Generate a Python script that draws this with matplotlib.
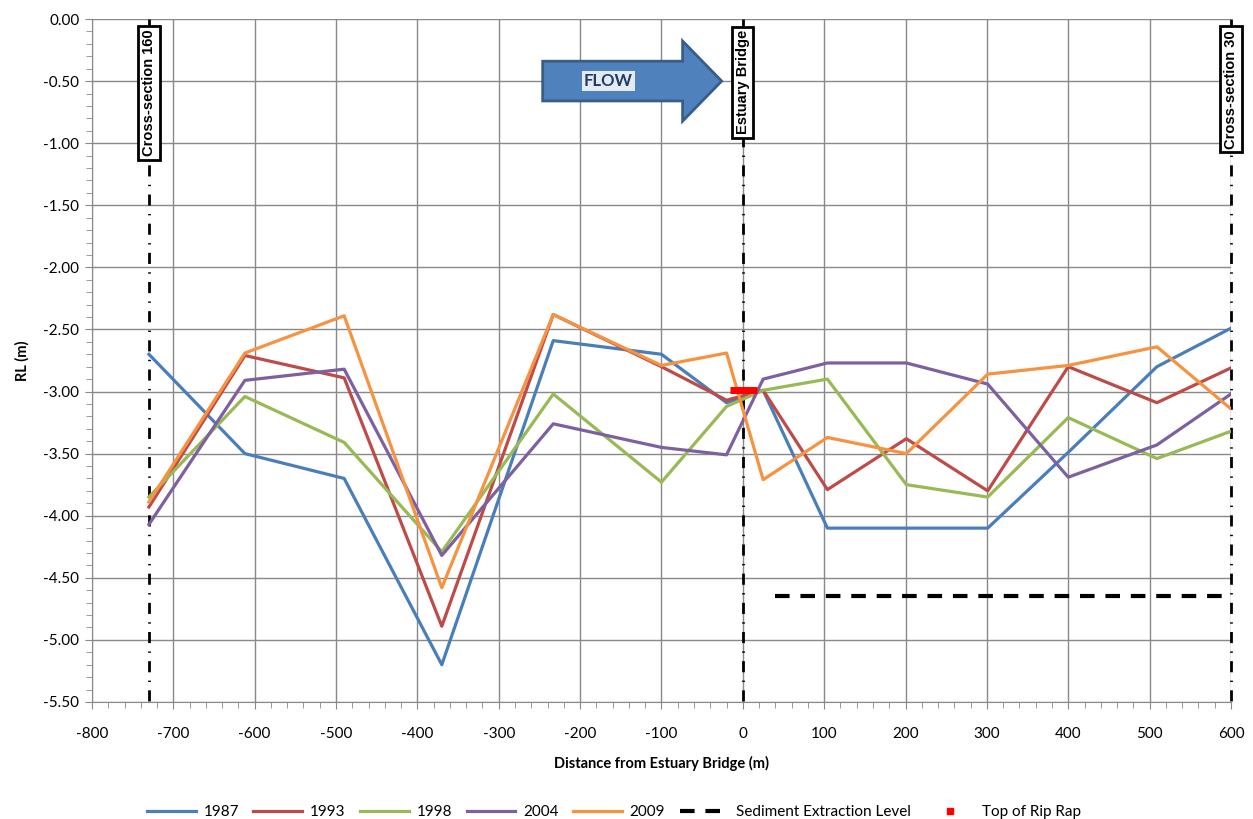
import numpy as np
import matplotlib
matplotlib.use("Agg")
import matplotlib.pyplot as plt
from matplotlib.patches import FancyArrow
from matplotlib.lines import Line2D
from matplotlib.ticker import MultipleLocator, FormatStrFormatter

plt.rcParams['font.family'] = ['Lato', 'DejaVu Sans']
plt.rcParams['axes.unicode_minus'] = False

# chainage of each surveyed section (m from Estuary Bridge)
dist = [-730, -612, -490, -370, -233, -100, -20, 25, 104, 201, 301, 400, 509, 600]

rl_1987 = [-2.70, -3.50, -3.70, -5.20, -2.59, -2.70, -3.09, -2.99, -4.10, -4.10, -4.10, -3.49, -2.80, -2.49]
rl_1993 = [-3.93, -2.71, -2.89, -4.89, -2.38, -2.80, -3.07, -2.99, -3.79, -3.38, -3.80, -2.80, -3.09, -2.81]
rl_1998 = [-3.85, -3.04, -3.41, -4.29, -3.02, -3.73, -3.12, -2.99, -2.90, -3.75, -3.85, -3.21, -3.54, -3.32]
rl_2004 = [-4.07, -2.91, -2.82, -4.32, -3.26, -3.45, -3.51, -2.90, -2.77, -2.77, -2.94, -3.69, -3.43, -3.02]
rl_2009 = [-3.89, -2.69, -2.39, -4.58, -2.38, -2.79, -2.69, -3.71, -3.37, -3.50, -2.86, -2.79, -2.64, -3.14]

years = ['1987', '1993', '1998', '2004', '2009']
colors = ['#4A7EBB', '#BE4B48', '#98B954', '#7D60A0', '#F69240']

sed_x = [40, 600]
sed_rl = [-4.65, -4.65]

riprap_x = [-16, 17]
riprap_rl = [-2.99, -2.99]

marker_x = [-730, 0, 600]
marker_labels = ['Cross-section 160', 'Estuary Bridge', 'Cross-section 30']
marker_label_y = [-0.595, -0.51, -0.567]

fig = plt.figure(figsize=(12.53, 8.19), dpi=100)
ax = fig.add_axes([0.0734, 0.1429, 0.909, 0.8339])

grid_c = '#898989'
ax.set_xlim(-800, 600)
ax.set_ylim(-5.5, 0)
ax.xaxis.set_major_locator(MultipleLocator(100))
ax.xaxis.set_minor_locator(MultipleLocator(20))
ax.yaxis.set_major_locator(MultipleLocator(0.5))
ax.yaxis.set_minor_locator(MultipleLocator(0.1))
ax.yaxis.set_major_formatter(FormatStrFormatter('%.2f'))
ax.grid(True, which='major', color=grid_c, lw=1, zorder=0)
for s in ['top', 'right']:
    ax.spines[s].set_visible(False)
for s in ['left', 'bottom']:
    ax.spines[s].set_color(grid_c)
ax.tick_params(which='both', color=grid_c, direction='out', labelsize=11)
ax.tick_params(which='major', length=5)
ax.tick_params(which='minor', length=4)
ax.tick_params(axis='x', pad=13)
ax.tick_params(axis='y', pad=4)

handles = []
for yr, vals, c in zip(years, [rl_1987, rl_1993, rl_1998, rl_2004, rl_2009], colors):
    h, = ax.plot(dist, vals, color=c, lw=2.3, label=yr, zorder=3)
    handles.append(h)

h, = ax.plot(sed_x, sed_rl, color='black', lw=3, dashes=(3.5, 2.6),
             label='Sediment Extraction Level', zorder=3)
handles.append(h)
ax.plot(riprap_x, riprap_rl, color='red', lw=5, solid_capstyle='butt', zorder=4)
handles.append(Line2D([], [], color='red', marker='s', markersize=4, linestyle='none',
                      label='Top of Rip Rap'))

for mx, lab, ly in zip(marker_x, marker_labels, marker_label_y):
    ax.plot([mx, mx], [0, -5.5], color='black', lw=2, dashes=(4, 3, 0.5, 3), zorder=2,
            clip_on=False)
    ax.text(mx, ly, lab, rotation=90, ha='center', va='center', fontsize=10.5,
            fontweight='bold', family='Liberation Sans', zorder=5,
            bbox=dict(boxstyle='square,pad=0.25', fc='white', ec='black', lw=2))

# flow arrow
arr = FancyArrow(-246, -0.5, 220, 0, width=0.32, head_width=0.645, head_length=48,
                 length_includes_head=True, fc='#4F81BD', ec='#385D8A', lw=2, zorder=5)
ax.add_patch(arr)
ax.text(-165, -0.5, 'FLOW', ha='center', va='center', fontsize=12, fontweight='bold',
        color='#1F3B66', zorder=6,
        bbox=dict(boxstyle='square,pad=0.1', fc='#E4EAF3', ec='none'))

ax.set_xlabel('Distance from Estuary Bridge (m)', fontsize=10.5, fontweight='bold', labelpad=11)
ax.set_ylabel('RL (m)', fontsize=10.5, fontweight='bold', labelpad=10)

fig.legend(handles=handles, loc='lower center', bbox_to_anchor=(0.49, -0.017), ncol=7,
           frameon=False, fontsize=11, handlelength=3.2, columnspacing=0.95,
           handletextpad=0.5)

fig.savefig('out.png', dpi=100)
